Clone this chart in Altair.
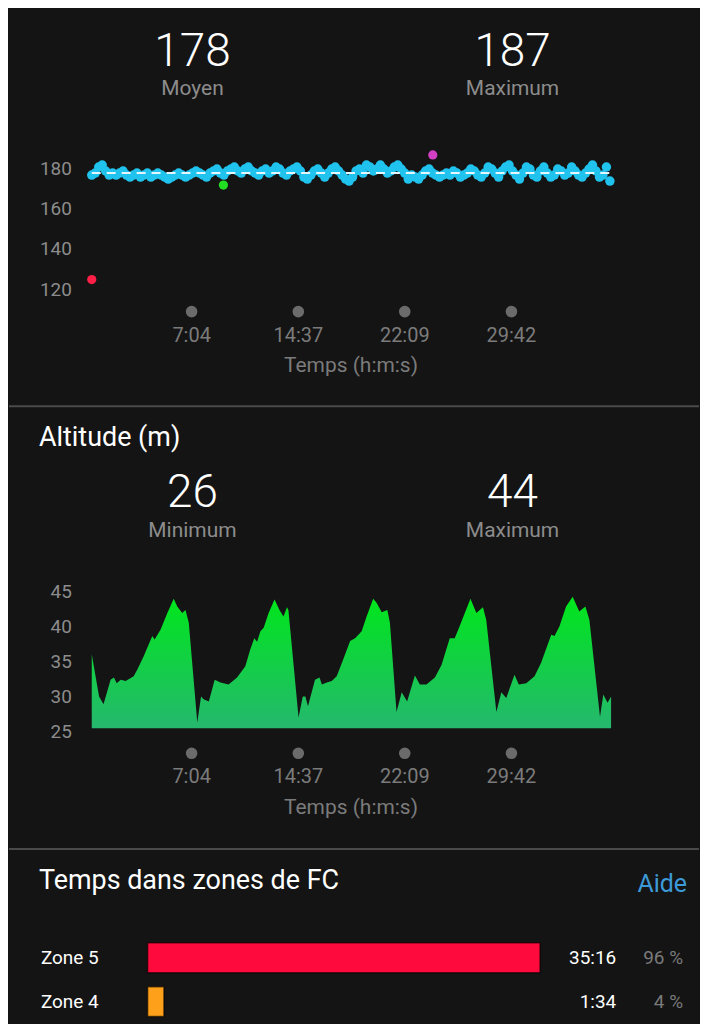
import altair as alt
import pandas as pd

W = 692
BG = "#141414"
FONT = "Roboto"
WHITE = "#ffffff"
GRAY = "#8c8c8c"
AXGRAY = "#7b7b7b"

# ---------------- data ----------------
TIME_TICKS_S = [424, 877, 1329, 1782]
TIME_TICK_LABELS = ["7:04", "14:37", "22:09", "29:42"]
TOTAL_S = 2210

CAD_STATS = [178, 187]
CAD_STAT_LABELS = ["Moyen", "Maximum"]
CAD_YTICKS = [180, 160, 140, 120]
CAD_VALUES = [
    177, 178, 181, 182, 179, 177, 178, 177, 178, 179,
    177, 176, 177, 178, 176, 177, 178, 176, 177, 178,
    177, 176, 175, 176, 177, 178, 177, 176, 177, 178,
    179, 178, 177, 176, 178, 179, 180, 178, 177, 179,
    180, 181, 179, 178, 180, 181, 179, 178, 177, 179,
    180, 178, 179, 181, 180, 178, 177, 179, 180, 181,
    179, 176, 175, 177, 179, 180, 178, 176, 178, 180,
    181, 179, 177, 175, 174, 176, 179, 180, 178, 182,
    181, 179, 180, 182, 180, 178, 179, 181, 182, 180,
    178, 175, 177, 176, 175, 177, 179, 180, 178, 177,
    176, 177, 178, 177, 179, 178, 176, 177, 178, 180,
    179, 177, 176, 178, 181, 180, 178, 176, 179, 181,
    182, 179, 177, 175, 178, 181, 180, 177, 176, 179,
    181, 178, 176, 177, 180, 179, 177, 178, 181, 179,
    177, 176, 178, 180, 182, 179, 176, 177, 181, 174,
]
CAD_LAST_S = 2200
CAD_OUT_T = [0, 559, 1448]
CAD_OUT_V = [125, 172, 187]
CAD_OUT_ZONE = ["bas", "moyen", "haut"]
CAD_OUT_COLORS = ["#ff1f47", "#22dd22", "#d23fc4"]

ALT_STATS = [26, 44]
ALT_STAT_LABELS = ["Minimum", "Maximum"]
ALT_YTICKS = [45, 40, 35, 30, 25]
ALT_T = [0, 31, 50, 80, 94, 106, 123, 144, 178, 193, 220, 257, 267, 292, 321, 348,
         363, 384, 398, 412, 448, 464, 475, 497, 522, 546, 581, 617, 652, 673, 690,
         702, 716, 730, 751, 776, 797, 814, 829, 835, 878, 896, 907, 918, 948, 967,
         977, 998, 1019, 1040, 1068, 1097, 1118, 1146, 1167, 1195, 1210, 1231, 1255,
         1266, 1294, 1316, 1339, 1372, 1393, 1421, 1457, 1485, 1520, 1541, 1562,
         1584, 1608, 1633, 1661, 1675, 1718, 1739, 1760, 1795, 1813, 1845, 1880,
         1908, 1951, 1965, 1986, 2014, 2042, 2070, 2096, 2113, 2158, 2172, 2190, 2205]
ALT_V = [36.1, 30.1, 29.0, 32.5, 32.8, 32.0, 32.5, 32.3, 33.0, 33.9, 35.8, 38.7, 38.2,
         39.6, 42.0, 44.0, 42.9, 42.0, 42.4, 40.6, 26.4, 30.1, 29.7, 29.4, 32.5, 32.1,
         31.8, 32.8, 34.4, 36.8, 38.4, 37.9, 39.4, 39.9, 42.0, 43.9, 42.4, 41.5, 42.8,
         42.4, 27.1, 30.1, 30.1, 28.7, 32.5, 32.8, 31.8, 32.1, 32.3, 33.0, 35.4, 38.0,
         38.4, 39.4, 41.5, 44.0, 43.4, 42.1, 42.4, 40.6, 27.9, 30.7, 29.4, 33.1, 31.8,
         31.8, 32.8, 34.6, 38.4, 38.4, 40.1, 42.0, 44.0, 42.0, 42.8, 41.0, 27.9, 30.7,
         29.9, 33.2, 31.8, 32.0, 33.0, 34.9, 38.9, 38.7, 40.1, 42.9, 44.3, 42.2, 42.9,
         41.0, 27.2, 30.4, 29.2, 30.1]
ALT_BASE = 25.6

ZONES = ["Zone 5", "Zone 4"]
ZONE_TIME = ["35:16", "1:34"]
ZONE_PCT = [96, 4]
ZONE_COLORS = ["#ff0a3c", "#ffa01a"]

ONE = pd.DataFrame({"k": [0]})


def label(text, x, y, size, color, weight=400, align="center"):
    return alt.Chart(ONE).mark_text(
        text=text, fontSize=size, color=color, font=FONT, fontWeight=weight,
        align=align, baseline="middle"
    ).encode(x=alt.value(x), y=alt.value(y))


def divider():
    return alt.Chart(ONE).mark_rule(color="#4a4a4a", strokeWidth=2).encode(
        x=alt.value(0), x2=alt.value(W), y=alt.value(1)
    )


xs = alt.Scale(domain=[0, TOTAL_S], range=[83, 605], nice=False, zero=False)


def time_axis(dot_y, lab_y, title_y):
    tdf = pd.DataFrame({"t": TIME_TICKS_S, "lab": TIME_TICK_LABELS})
    dots = alt.Chart(tdf).mark_circle(size=135, color="#6b6b6b", opacity=1).encode(
        x=alt.X("t:Q", scale=xs, axis=None), y=alt.value(dot_y)
    )
    labs = alt.Chart(tdf).mark_text(fontSize=20, color=AXGRAY, font=FONT, baseline="middle").encode(
        x=alt.X("t:Q", scale=xs, axis=None), y=alt.value(lab_y), text="lab:N"
    )
    title = label("Temps (h:m:s)", 343, title_y, 21, AXGRAY)
    return [dots, labs, title]


# ---------------- panel 1 : cadence ----------------
ys1 = alt.Scale(domain=[120, 180], range=[281, 160], nice=False, zero=False)
n = len(CAD_VALUES)
cad_df = pd.DataFrame({"t": [i * CAD_LAST_S / (n - 1) for i in range(n)], "v": CAD_VALUES})
out_df = pd.DataFrame({"t": CAD_OUT_T, "v": CAD_OUT_V, "czone": CAD_OUT_ZONE})
mean_df = pd.DataFrame({"t0": [0], "t1": [TOTAL_S], "v": [CAD_STATS[0]]})
yt1 = pd.DataFrame({"v": CAD_YTICKS, "lab": [str(v) for v in CAD_YTICKS]})

p1_layers = [
    label(str(CAD_STATS[0]), 184, 43, 46, WHITE, 300),
    label(CAD_STAT_LABELS[0], 184, 80, 21, GRAY),
    label(str(CAD_STATS[1]), 505, 43, 46, WHITE, 300),
    label(CAD_STAT_LABELS[1], 505, 80, 21, GRAY),
    alt.Chart(yt1).mark_text(align="right", baseline="middle", fontSize=19, color=GRAY, font=FONT).encode(
        x=alt.value(63), y=alt.Y("v:Q", scale=ys1, axis=None), text="lab:N"
    ),
    alt.Chart(cad_df).mark_circle(size=90, opacity=1, color="#20c3ee").encode(
        x=alt.X("t:Q", scale=xs, axis=None), y=alt.Y("v:Q", scale=ys1, axis=None)
    ),
    alt.Chart(out_df).mark_circle(size=85, opacity=1).encode(
        x=alt.X("t:Q", scale=xs, axis=None), y=alt.Y("v:Q", scale=ys1, axis=None),
        color=alt.Color("czone:N", scale=alt.Scale(domain=CAD_OUT_ZONE, range=CAD_OUT_COLORS), legend=None),
    ),
    alt.Chart(mean_df).mark_rule(color="#e4f6ff", strokeWidth=2, strokeDash=[9, 6]).encode(
        x=alt.X("t0:Q", scale=xs, axis=None), x2="t1:Q", y=alt.Y("v:Q", scale=ys1, axis=None)
    ),
] + time_axis(303, 327, 358)
p1 = alt.layer(*p1_layers).properties(width=W, height=397)

# ---------------- panel 2 : altitude ----------------
ys2 = alt.Scale(domain=[25, 45], range=[328, 187], nice=False, zero=False)
alt_df = pd.DataFrame({"t": ALT_T, "v": ALT_V, "base": [ALT_BASE] * len(ALT_T)})
yt2 = pd.DataFrame({"v": ALT_YTICKS, "lab": [str(v) for v in ALT_YTICKS]})
grad = alt.Gradient(
    gradient="linear",
    stops=[alt.GradientStop(color="#00e61b", offset=0), alt.GradientStop(color="#25b86e", offset=1)],
    x1=0, x2=0, y1=0, y2=1,
)
p2_layers = [
    divider(),
    label("Altitude (m)", 30, 33, 27, WHITE, 400, "left"),
    label(str(ALT_STATS[0]), 184, 88, 46, WHITE, 300),
    label(ALT_STAT_LABELS[0], 184, 126, 21, GRAY),
    label(str(ALT_STATS[1]), 505, 88, 46, WHITE, 300),
    label(ALT_STAT_LABELS[1], 505, 126, 21, GRAY),
    alt.Chart(yt2).mark_text(align="right", baseline="middle", fontSize=19, color=GRAY, font=FONT).encode(
        x=alt.value(63), y=alt.Y("v:Q", scale=ys2, axis=None), text="lab:N"
    ),
    alt.Chart(alt_df).mark_area(color=grad, opacity=1).encode(
        x=alt.X("t:Q", scale=xs, axis=None), y=alt.Y("v:Q", scale=ys2, axis=None), y2="base:Q"
    ),
] + time_axis(349, 373, 404)
p2 = alt.layer(*p2_layers).properties(width=W, height=444)

# ---------------- panel 3 : HR zones ----------------
zdf = pd.DataFrame({"hrzone": ZONES, "pct": ZONE_PCT, "time": ZONE_TIME,
                    "pctlab": [f"{p} %" for p in ZONE_PCT]})
yz = alt.Scale(type="point", domain=ZONES, range=[110, 154], padding=0)
xz = alt.Scale(domain=[0, 100], range=[139, 549], nice=False)
p3_layers = [
    divider(),
    label("Temps dans zones de FC", 30, 33, 27, WHITE, 400, "left"),
    label("Aide", 680, 36, 25, "#3d9ad8", 400, "right"),
    alt.Chart(zdf).mark_bar(height=30, stroke="#000000", strokeOpacity=0.6, strokeWidth=1.5, opacity=1).encode(
        x=alt.X("pct:Q", scale=xz, axis=None),
        y=alt.Y("hrzone:N", scale=yz, axis=None),
        color=alt.Color("hrzone:N", scale=alt.Scale(domain=ZONES, range=ZONE_COLORS), legend=None),
    ),
    alt.Chart(zdf).mark_text(align="left", baseline="middle", fontSize=19, color=WHITE, font=FONT).encode(
        x=alt.value(32), y=alt.Y("hrzone:N", scale=yz, axis=None), text="hrzone:N"
    ),
    alt.Chart(zdf).mark_text(align="right", baseline="middle", fontSize=19, color=WHITE, font=FONT).encode(
        x=alt.value(609), y=alt.Y("hrzone:N", scale=yz, axis=None), text="time:N"
    ),
    alt.Chart(zdf).mark_text(align="right", baseline="middle", fontSize=19, color="#7a7a7a", font=FONT).encode(
        x=alt.value(676), y=alt.Y("hrzone:N", scale=yz, axis=None), text="pctlab:N"
    ),
]
p3 = alt.layer(*p3_layers).properties(width=W, height=180)

chart = alt.vconcat(p1, p2, p3, spacing=0).resolve_scale(color="independent").properties(
    padding=0, background=BG
).configure_view(stroke=None).configure_concat(spacing=0)

chart.save("out.html", embed_options={"renderer": "svg", "actions": False})
